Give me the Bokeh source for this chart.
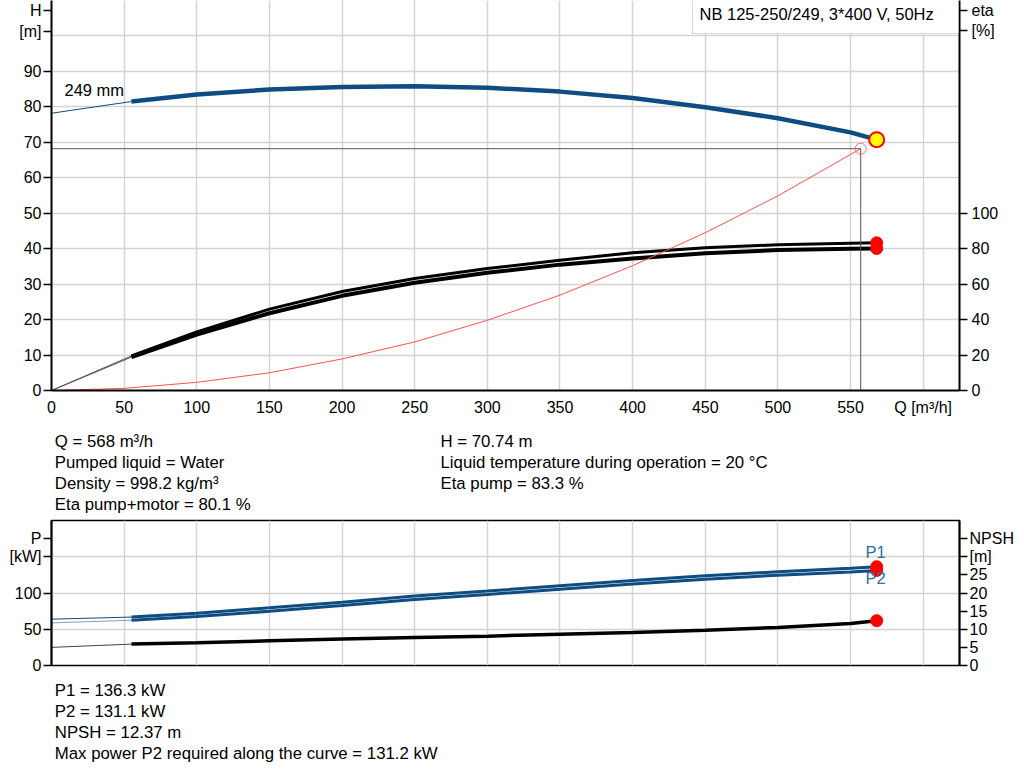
from bokeh.plotting import figure
from bokeh.models import LinearAxis, Range1d, FixedTicker, Label, BoxAnnotation
from bokeh.layouts import column
from bokeh.embed import file_html
from bokeh.resources import INLINE

FONT = "Liberation Sans"
BLUE = "#0f4c81"
GRID = "#d4d4d4"
W = 1016

# duty point
q_duty = 568
h_duty = 70.74
eta_pump_duty = 83.3
eta_total_duty = 80.1
p1_duty = 136.3
p2_duty = 131.1
npsh_duty = 12.37

# requested point (system curve end)
q_req = 557
h_req = 68.2

# H curve, 249 mm impeller
q_ext = [0, 55]
h_ext = [78.2, 81.5]
q_h = [55, 100, 150, 200, 250, 300, 350, 400, 450, 500, 550, 568]
h = [81.5, 83.5, 84.9, 85.6, 85.8, 85.4, 84.3, 82.5, 79.9, 76.8, 72.8, 70.74]

# system curve
q_sys = [0, 50, 100, 150, 200, 250, 300, 350, 400, 450, 500, 557]
h_sys = [0, 0.6, 2.3, 5.0, 8.9, 13.7, 19.8, 26.9, 35.2, 44.5, 54.9, 68.2]

# efficiency curves
eta_pump_ext = [0, 19.5]
eta_total_ext = [0, 18.8]
eta_pump = [19.5, 33.1, 45.9, 55.8, 63.2, 68.8, 73.5, 77.7, 80.5, 82.2, 83.0, 83.3]
eta_total = [18.8, 31.5, 43.6, 53.4, 60.8, 66.4, 71.0, 74.5, 77.4, 79.2, 79.9, 80.1]

# power and npsh
p1_ext = [63.9, 66.8]
p2_ext = [58.8, 62.4]
p1 = [66.8, 72.2, 79.6, 87.4, 95.7, 102.6, 110.0, 117.3, 123.8, 129.3, 134.0, 136.3]
p2 = [62.4, 67.6, 74.8, 82.8, 91.1, 98.0, 105.2, 112.5, 119.0, 124.5, 129.0, 131.1]
npsh_ext = [5.0, 5.9]
npsh = [5.9, 6.3, 6.8, 7.3, 7.7, 8.1, 8.6, 9.1, 9.7, 10.5, 11.6, 12.37]

q_ticks = [0, 50, 100, 150, 200, 250, 300, 350, 400, 450, 500, 550, 600]
h_ticks = [0, 10, 20, 30, 40, 50, 60, 70, 80, 90]
eta_ticks = [0, 20, 40, 60, 80, 100]
p_ticks = [0, 50, 100, 150]
npsh_ticks = [0, 5, 10, 15, 20, 25, 30, 35]

info_left = ["Q = 568 m\u00b3/h", "Pumped liquid = Water",
             "Density = 998.2 kg/m\u00b3", "Eta pump+motor = 80.1 %"]
info_right = ["H = 70.74 m", "Liquid temperature during operation = 20 \u00b0C",
              "Eta pump = 83.3 %"]
info_bottom = ["P1 = 136.3 kW", "P2 = 131.1 kW", "NPSH = 12.37 m",
               "Max power P2 required along the curve = 131.2 kW"]


def style_axis(ax, ticks, overrides=None, tick_out=8, standoff=3):
    ax.ticker = FixedTicker(ticks=ticks)
    ax.major_label_text_font = FONT
    ax.major_label_text_font_size = "16px"
    ax.major_label_text_color = "black"
    ax.axis_line_color = "black"
    ax.axis_line_width = 2
    ax.major_tick_line_color = "black"
    ax.major_tick_line_width = 1.5
    ax.major_tick_out = tick_out
    ax.major_tick_in = 0
    ax.minor_tick_out = 0
    ax.minor_tick_in = 0
    ax.major_label_standoff = standoff
    if overrides:
        ax.major_label_overrides = overrides


def note(fig, x, y, text, align="left", color="black", size="16.5px"):
    fig.add_layout(Label(x=x, y=y, x_units="screen", y_units="screen",
                         text=text, text_font=FONT, text_font_size=size,
                         text_align=align, text_baseline="middle",
                         text_color=color))


def text_panel(height, lines):
    # frame is aligned with the charts above/below by the column layout
    f = figure(width=W, height=height, x_range=Range1d(0, 1), y_range=Range1d(0, 1),
               output_backend="svg", toolbar_location=None,
               x_axis_location=None, y_axis_location=None, min_border=0)
    f.outline_line_color = None
    f.grid.visible = False
    for x, y, t in lines:
        note(f, x, y, t, size="16.8px")
    return f


# ---- top chart: H and eta ----
p = figure(width=W, height=420, x_range=Range1d(0, 625), y_range=Range1d(0, 110),
           output_backend="svg", toolbar_location=None,
           min_border_left=51, min_border_right=57, min_border_top=0,
           min_border_bottom=30)
p.outline_line_color = None
p.extra_y_ranges = {"eta": Range1d(0, 220)}
p.add_layout(LinearAxis(y_range_name="eta"), "right")

style_axis(p.xaxis[0], q_ticks, {600: "Q [m\u00b3/h]"}, tick_out=0, standoff=8)
style_axis(p.yaxis[0], h_ticks + [101.3, 107.2], {101.3: "[m]", 107.2: "H"}, standoff=2)
style_axis(p.yaxis[1], eta_ticks + [203.1, 214.4], {203.1: "[%]", 214.4: "eta"}, standoff=4)

p.xgrid.ticker = FixedTicker(ticks=q_ticks[1:])
p.ygrid.ticker = FixedTicker(ticks=[10, 20, 30, 40, 50, 60, 70, 80, 90, 100])
p.grid.grid_line_color = GRID
p.grid.grid_line_width = 1.5

p.line(q_ext, eta_pump_ext, y_range_name="eta", color="#555555", line_width=1)
p.line(q_ext, eta_total_ext, y_range_name="eta", color="#555555", line_width=1)
p.line(q_h, eta_pump, y_range_name="eta", color="black", line_width=3)
p.line(q_h, eta_total, y_range_name="eta", color="black", line_width=4)
p.scatter([q_duty, q_duty], [eta_pump_duty, eta_total_duty], y_range_name="eta",
          size=12, color="red")

p.line(q_sys, h_sys, color="#ff5050", line_width=1)
p.line([0, q_req], [h_req, h_req], color="#555555", line_width=1)
p.line([q_req, q_req], [0, h_req], color="#555555", line_width=1)
p.scatter([q_req], [h_req], size=11, fill_color=None, line_color="#ff7070", line_width=1)

p.line(q_ext, h_ext, color=BLUE, line_width=1)
p.line(q_h, h, color=BLUE, line_width=4.5)
p.scatter([q_duty], [h_duty], size=15, fill_color="#ffff00", line_color="red", line_width=2)

note(p, 13, 301, "249 mm")

p.add_layout(BoxAnnotation(left=641, right=907, bottom=357, top=392,
                           left_units="screen", right_units="screen",
                           bottom_units="screen", top_units="screen",
                           fill_color="white", fill_alpha=1,
                           line_color="#888888", line_width=1))
note(p, 648, 376.5, "NB 125-250/249, 3*400 V, 50Hz")

# ---- text between the charts ----
rows = [(3.3, 76 - 21.1 * i, t) for i, t in enumerate(info_left)]
rows += [(389, 76 - 21.1 * i, t) for i, t in enumerate(info_right)]
mid = text_panel(97, rows)

# ---- bottom chart: P and NPSH ----
p2f = figure(width=W, height=158, x_range=Range1d(0, 625), y_range=Range1d(0, 200),
             output_backend="svg", toolbar_location=None, x_axis_location=None,
             min_border_left=51, min_border_right=57, min_border_top=3,
             min_border_bottom=10)
p2f.outline_line_color = "black"
p2f.outline_line_width = 1.5
p2f.extra_y_ranges = {"npsh": Range1d(0, 40)}
p2f.add_layout(LinearAxis(y_range_name="npsh"), "right")

style_axis(p2f.yaxis[0], p_ticks + [175], {150: "[kW]", 175: "P"}, standoff=2)
style_axis(p2f.yaxis[1], npsh_ticks, {30: "[m]", 35: "NPSH"}, standoff=2)

p2f.xgrid.ticker = FixedTicker(ticks=q_ticks[1:])
p2f.ygrid.ticker = FixedTicker(ticks=[50, 100, 150])
p2f.grid.grid_line_color = GRID
p2f.grid.grid_line_width = 1.5

p2f.line(q_ext, npsh_ext, y_range_name="npsh", color="#444444", line_width=1)
p2f.line(q_h, npsh, y_range_name="npsh", color="black", line_width=3.5)
p2f.scatter([q_duty], [npsh_duty], y_range_name="npsh", size=12, color="red")

p2f.line(q_ext, p1_ext, color=BLUE, line_width=1)
p2f.line(q_ext, p2_ext, color="#8a9bb0", line_width=1)
p2f.line(q_h, p1, color=BLUE, line_width=3)
p2f.line(q_h, p2, color=BLUE, line_width=3)
p2f.scatter([q_duty, q_duty], [p1_duty, p2_duty], size=12, color="red")

note(p2f, 824, 114, "P1", align="center", color="#2a6ea6")
note(p2f, 824, 87.5, "P2", align="center", color="#2a6ea6")

# ---- text under the charts ----
low = text_panel(103, [(3.3, 88 - 21.1 * i, t) for i, t in enumerate(info_bottom)])

layout = column(p, mid, p2f, low)
open("out.html", "w").write(file_html(layout, INLINE))
